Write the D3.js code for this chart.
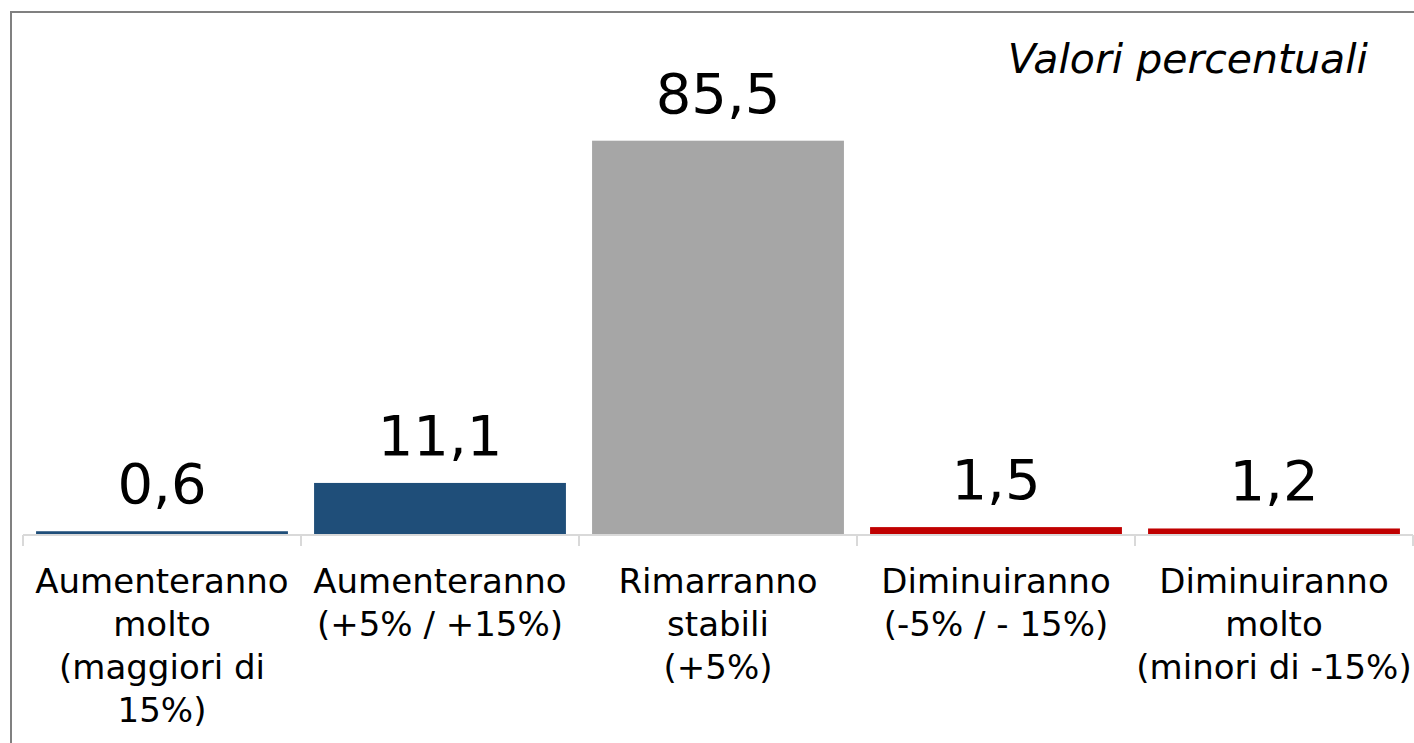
<!DOCTYPE html>
<html>
<head>
<meta charset="utf-8">
<script src="https://cdn.jsdelivr.net/npm/d3@7"></script>
<style>
  html, body { margin: 0; padding: 0; background: #ffffff; }
  svg { display: block; }
</style>
</head>
<body>
<svg id="chart" width="1414" height="743"></svg>
<script>
// Categories (each label split into its display lines)
const categories = [
  "Aumenteranno molto (maggiori di 15%)",
  "Aumenteranno (+5% / +15%)",
  "Rimarranno stabili (+5%)",
  "Diminuiranno (-5% / - 15%)",
  "Diminuiranno molto (minori di -15%)"
];
const categoryLines = [
  ["Aumenteranno", "molto", "(maggiori di", "15%)"],
  ["Aumenteranno", "(+5% / +15%)"],
  ["Rimarranno", "stabili", "(+5%)"],
  ["Diminuiranno", "(-5% / - 15%)"],
  ["Diminuiranno", "molto", "(minori di -15%)"]
];
const values = [0.6, 11.1, 85.5, 1.5, 1.2];
const barColors = ["#1f4e79", "#1f4e79", "#a6a6a6", "#c00000", "#c00000"];
const subtitle = "Valori percentuali";

const svg = d3.select("#chart");
const fmt = v => d3.format(".1f")(v).replace(".", ",");

// Chart frame (top and left edges visible)
svg.append("rect")
  .attr("x", 11).attr("y", 12)
  .attr("width", 1420).attr("height", 760)
  .attr("fill", "none")
  .attr("stroke", "#808080")
  .attr("stroke-width", 2);

const x = d3.scaleBand()
  .domain(categories)
  .range([23, 1413])
  .paddingInner(0.094)
  .paddingOuter(0.047);

const y = d3.scaleLinear()
  .domain([0, 90])
  .range([534, 120]);

// Bars
svg.append("g")
  .selectAll("rect")
  .data(values)
  .join("rect")
  .attr("x", (d, i) => x(categories[i]))
  .attr("width", x.bandwidth())
  .attr("y", d => y(d))
  .attr("height", d => y(0) - y(d))
  .attr("fill", (d, i) => barColors[i]);

// Category axis: baseline line with ticks at band boundaries
const axisG = svg.append("g");
const bounds = categories.map(c => x(c) - x.step() * x.paddingInner() / 2);
bounds.push(x.range()[1]);
bounds[0] = x.range()[0];
axisG.append("line")
  .attr("x1", x.range()[0]).attr("x2", x.range()[1])
  .attr("y1", 535).attr("y2", 535)
  .attr("stroke", "#d9d9d9").attr("stroke-width", 2);
axisG.selectAll("line.tick")
  .data(bounds)
  .join("line")
  .attr("class", "tick")
  .attr("x1", d => d).attr("x2", d => d)
  .attr("y1", 535).attr("y2", 546)
  .attr("stroke", "#d9d9d9").attr("stroke-width", 2);

// Category labels
const labelG = svg.append("g")
  .attr("font-family", "'DejaVu Sans', sans-serif")
  .attr("font-size", 34)
  .attr("fill", "#000000")
  .attr("text-anchor", "middle");
categoryLines.forEach((lines, i) => {
  const cx = x(categories[i]) + x.bandwidth() / 2;
  const t = labelG.append("text").attr("x", cx).attr("y", 593);
  lines.forEach((ln, j) => {
    t.append("tspan").attr("x", cx).attr("y", 593 + j * 43).text(ln);
  });
});

// Value labels above bars
svg.append("g")
  .attr("font-family", "'DejaVu Sans', sans-serif")
  .attr("font-size", 56)
  .attr("fill", "#000000")
  .attr("text-anchor", "middle")
  .selectAll("text")
  .data(values)
  .join("text")
  .attr("x", (d, i) => x(categories[i]) + x.bandwidth() / 2)
  .attr("y", d => y(d) - 28)
  .text(d => fmt(d));

// Subtitle
svg.append("text")
  .attr("x", 1368).attr("y", 73)
  .attr("text-anchor", "end")
  .attr("font-family", "'DejaVu Sans', sans-serif")
  .attr("font-style", "italic")
  .attr("font-size", 41)
  .attr("fill", "#000000")
  .text(subtitle);
</script>
</body>
</html>
